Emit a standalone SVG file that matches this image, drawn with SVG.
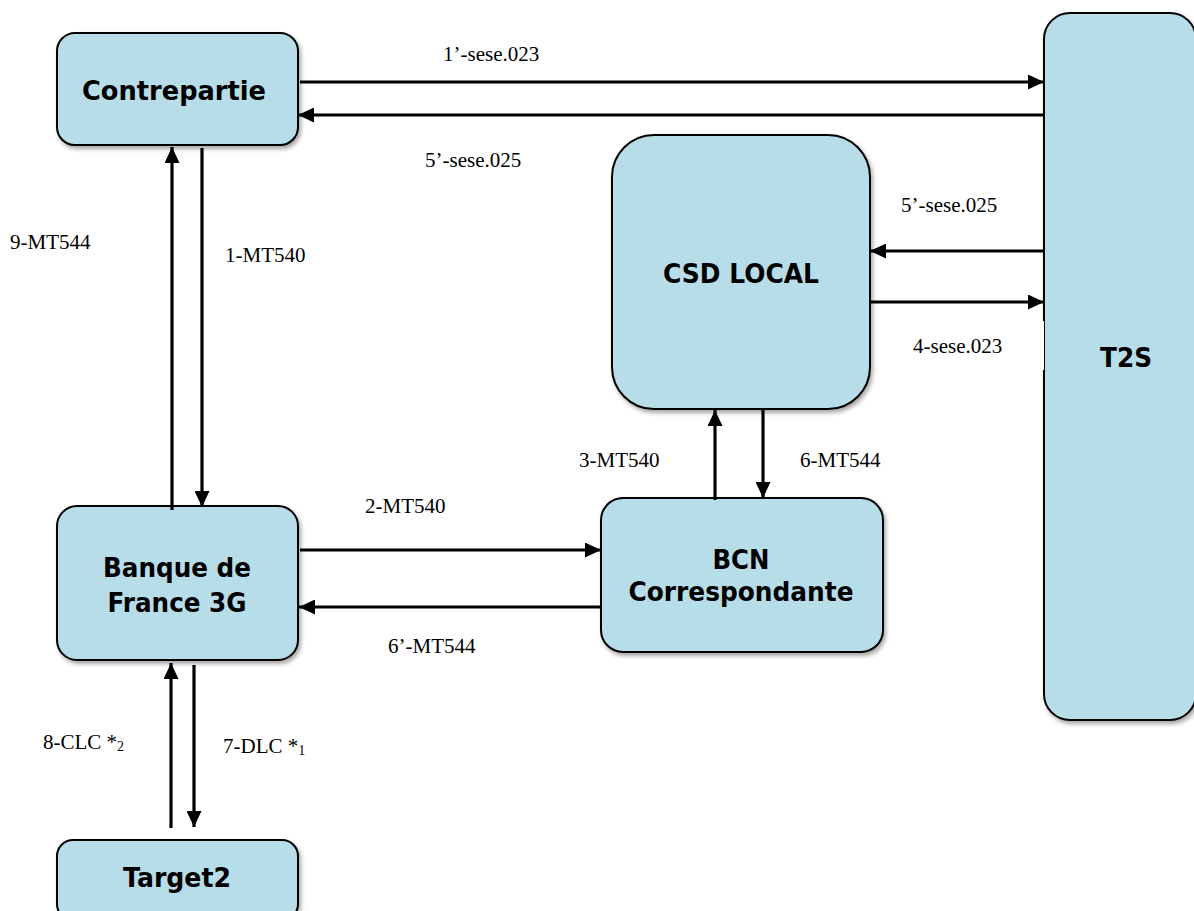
<svg xmlns="http://www.w3.org/2000/svg" width="1194" height="911" viewBox="0 0 1194 911">
<style>
.box{fill:#b7dde8;stroke:#000;stroke-width:2;filter:url(#sh)}
.nt{font-family:"DejaVu Sans","Liberation Sans",sans-serif;font-weight:bold;font-size:26px;fill:#000;text-anchor:middle}
.lb{font-family:"Liberation Serif","Times New Roman",serif;font-size:21px;fill:#000}
.sub{font-size:14px}
.ln{stroke:#000;stroke-width:3.2;fill:none}
.arr{marker-end:url(#ah)}
</style>
<defs>
<filter id="sh" x="-10%" y="-10%" width="130%" height="130%">
<feDropShadow dx="2" dy="3" stdDeviation="2" flood-color="#000" flood-opacity="0.35"/>
</filter>
<marker id="ah" markerUnits="userSpaceOnUse" markerWidth="16" markerHeight="15" refX="16" refY="7.5" orient="auto">
<path d="M0,0 L16,7.5 L0,15 z" fill="#000"/>
</marker>
</defs>
<rect width="1194" height="911" fill="#fff"/>

<g id="t2s">
<rect class="box" x="1044" y="13" width="152" height="707" rx="26"/>
<text class="nt" x="1126" y="367" textLength="52" lengthAdjust="spacingAndGlyphs">T2S</text>
</g>
<g id="contrepartie">
<rect class="box" x="57" y="33" width="241" height="112" rx="18"/>
<text class="nt" x="174" y="100" textLength="184" lengthAdjust="spacingAndGlyphs">Contrepartie</text>
</g>
<g id="csd">
<rect class="box" x="612" y="135" width="258" height="274" rx="42"/>
<text class="nt" x="741" y="283" textLength="156" lengthAdjust="spacingAndGlyphs">CSD LOCAL</text>
</g>
<g id="bdf">
<rect class="box" x="57" y="506" width="241" height="154" rx="20"/>
<text class="nt" x="177" y="577" textLength="148" lengthAdjust="spacingAndGlyphs">Banque de</text>
<text class="nt" x="177" y="612" textLength="139" lengthAdjust="spacingAndGlyphs">France 3G</text>
</g>
<g id="bcn">
<rect class="box" x="601" y="498" width="282" height="154" rx="22"/>
<text class="nt" x="741" y="569" textLength="57" lengthAdjust="spacingAndGlyphs">BCN</text>
<text class="nt" x="741" y="601" textLength="225" lengthAdjust="spacingAndGlyphs">Correspondante</text>
</g>
<g id="target2">
<rect class="box" x="57" y="840" width="241" height="80" rx="16"/>
<text class="nt" x="177" y="887" textLength="108" lengthAdjust="spacingAndGlyphs">Target2</text>
</g>

<g id="connectors">
<line class="ln arr" x1="300" y1="82" x2="1044" y2="82"/>
<line class="ln arr" x1="1044" y1="115" x2="298" y2="115"/>
<line class="ln arr" x1="172" y1="510" x2="172" y2="147"/>
<line class="ln arr" x1="202" y1="148" x2="202" y2="507"/>
<line class="ln arr" x1="300" y1="550" x2="601" y2="550"/>
<line class="ln arr" x1="601" y1="607" x2="299" y2="607"/>
<line class="ln arr" x1="715" y1="500" x2="715" y2="410"/>
<line class="ln arr" x1="763" y1="410" x2="763" y2="498"/>
<line class="ln arr" x1="1044" y1="251" x2="870" y2="251"/>
<line class="ln arr" x1="870" y1="302" x2="1044" y2="302"/>
<line class="ln arr" x1="171" y1="828" x2="171" y2="663"/>
<line class="ln arr" x1="194" y1="665" x2="194" y2="827"/>
</g>

<rect x="900" y="321" width="144" height="49" fill="#fff"/>

<g id="labels">
<text class="lb" x="443" y="61">1’-sese.023</text>
<text class="lb" x="425" y="167">5’-sese.025</text>
<text class="lb" x="901" y="212">5’-sese.025</text>
<text class="lb" x="913" y="353">4-sese.023</text>
<text class="lb" x="10" y="249">9-MT544</text>
<text class="lb" x="225" y="262">1-MT540</text>
<text class="lb" x="579" y="467">3-MT540</text>
<text class="lb" x="800" y="467">6-MT544</text>
<text class="lb" x="365" y="513">2-MT540</text>
<text class="lb" x="388" y="653">6’-MT544</text>
<text class="lb" x="43" y="749">8-CLC *<tspan class="sub" dy="2">2</tspan></text>
<text class="lb" x="223" y="753">7-DLC *<tspan class="sub" dy="2">1</tspan></text>
</g>
</svg>
